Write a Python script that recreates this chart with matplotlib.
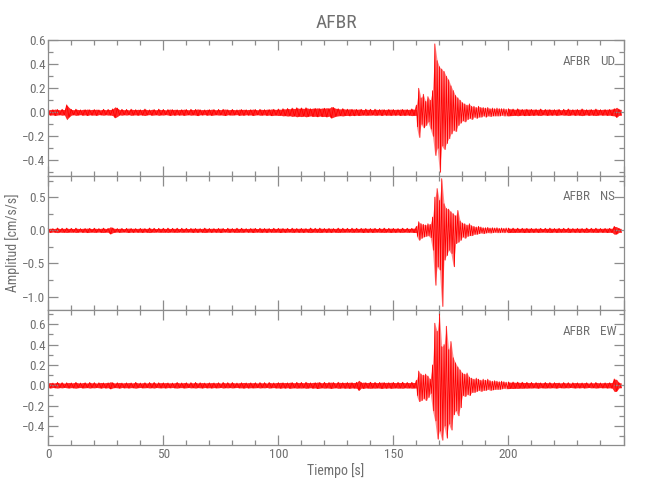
import numpy as np
import matplotlib
matplotlib.use("Agg")
import matplotlib.pyplot as plt
from matplotlib import font_manager as fm
from matplotlib.ticker import MultipleLocator, FixedLocator

# ---------------- data ----------------
station = "AFBR"
components = ["UD", "NS", "EW"]
x_ticks = [0, 50, 100, 150, 200]
y_ticks_ud = [-0.4, -0.2, 0.0, 0.2, 0.4, 0.6]
y_ticks_ns = [-1.0, -0.5, 0.0, 0.5]
y_ticks_ew = [-0.4, -0.2, 0.0, 0.2, 0.4, 0.6]

# quiet noise amplitude (x 0.001), one swing per second, t = 0..159 s
ud_q1 = [20,24,22,27,23,21,25,22,62,40, 24,21,26,23,20,25,22,27,21,24,
         23,26,20,22,25,21,24,23,28,46, 35,22,25,21,24,20,26,23,22,25,
         21,24,27,22,20,25,23,21,26,22, 24,20,23,27,22,25,21,24,22,26,
         23,21,25,22,24,28,21,23,20,25, 22,26,23,21,24,22,25,27,21,23,
         24,22,20,26,23,25,21,24,22,27, 23,21,25,24,22,26,23,28,25,24,
         27,25,30,28,32,29,35,31,38,33, 36,32,38,34,30,35,33,37,31,36,
         34,38,32,48,40,33,30,28,31,27, 26,29,25,28,24,27,25,23,26,24,
         25,22,26,24,23,27,22,25,24,26, 23,25,22,27,24,26,23,25,28,26]
ns_q1 = [28,32,26,30,35,27,31,29,33,28, 30,27,33,29,26,31,28,34,30,27,
         32,29,27,31,33,28,30,55,36,29, 27,31,29,26,30,33,28,31,27,30,
         29,32,27,30,34,28,31,26,30,29, 31,28,33,27,30,29,32,26,31,28,
         30,27,29,32,28,31,26,30,33,29, 28,31,27,30,29,33,28,26,31,30,
         27,30,32,28,31,29,26,30,28,33, 29,27,31,30,28,32,27,29,31,28,
         30,33,28,31,29,27,32,30,28,31, 29,32,27,30,34,28,31,29,33,30,
         28,31,29,32,27,30,33,29,31,28, 30,27,32,29,31,28,30,33,29,31,
         28,32,30,27,31,29,33,28,30,32, 29,31,28,30,32,27,31,29,30,33]
ew_q1 = [24,27,22,25,28,23,26,21,25,27, 23,26,29,24,22,27,25,23,28,24,
         26,22,25,28,23,27,24,35,26,23, 25,28,22,26,24,27,23,25,29,24,
         22,26,25,23,27,24,28,22,25,26, 24,27,23,25,22,26,28,24,23,27,
         25,22,26,24,28,23,25,27,22,26, 24,27,23,26,25,22,28,24,26,23,
         27,24,22,26,25,28,23,27,24,26, 25,23,27,24,26,22,28,25,23,27,
         26,29,25,28,24,30,27,25,29,26, 28,25,30,27,24,29,26,32,28,25,
         29,26,28,31,27,25,30,28,26,29, 27,30,26,28,29,50,27,31,26,28,
         30,27,29,26,28,31,27,29,26,30, 28,26,29,27,30,25,28,26,29,27]

# strong motion, t = 160..199 s: positive and negative peak of each second
ud_pos = [0.06,0.20,0.12,0.15,0.09,0.13,0.10,0.18,0.57,0.43,
          0.38,0.36,0.34,0.30,0.27,0.22,0.18,0.14,0.12,0.10,
          0.08,0.07,0.06,0.07,0.05,0.05,0.04,0.05,0.04,0.04,
          0.035,0.04,0.03,0.035,0.03,0.035,0.03,0.03,0.03,0.025]
ud_neg = [-0.12,-0.21,-0.10,-0.13,-0.11,-0.08,-0.14,-0.20,-0.36,-0.30,
          -0.50,-0.28,-0.31,-0.26,-0.22,-0.18,-0.15,-0.16,-0.11,-0.09,
          -0.07,-0.08,-0.06,-0.05,-0.06,-0.04,-0.05,-0.04,-0.04,-0.03,
          -0.04,-0.03,-0.035,-0.03,-0.03,-0.03,-0.03,-0.025,-0.03,-0.03]
ns_pos = [0.06,0.13,0.10,0.09,0.08,0.10,0.09,0.20,0.50,0.63,
          0.45,0.78,0.40,0.33,0.32,0.28,0.25,0.22,0.30,0.14,
          0.11,0.10,0.08,0.10,0.07,0.06,0.05,0.06,0.05,0.04,
          0.04,0.045,0.035,0.04,0.035,0.04,0.03,0.035,0.03,0.035]
ns_neg = [-0.09,-0.15,-0.12,-0.10,-0.09,-0.08,-0.11,-0.30,-0.83,-0.55,
          -0.60,-1.15,-0.45,-0.38,-0.30,-0.35,-0.55,-0.20,-0.18,-0.15,
          -0.10,-0.12,-0.09,-0.08,-0.08,-0.06,-0.06,-0.05,-0.04,-0.05,
          -0.04,-0.035,-0.04,-0.035,-0.03,-0.035,-0.035,-0.03,-0.035,-0.03]
ew_pos = [0.05,0.14,0.11,0.10,0.11,0.09,0.06,0.20,0.61,0.53,
          0.70,0.38,0.40,0.58,0.35,0.43,0.27,0.22,0.18,0.15,
          0.12,0.11,0.12,0.08,0.07,0.06,0.07,0.06,0.05,0.06,
          0.05,0.06,0.045,0.04,0.045,0.04,0.035,0.04,0.035,0.03]
ew_neg = [-0.10,-0.16,-0.15,-0.13,-0.15,-0.12,-0.08,-0.25,-0.35,-0.53,
          -0.45,-0.54,-0.40,-0.52,-0.38,-0.44,-0.29,-0.25,-0.30,-0.22,
          -0.10,-0.11,-0.09,-0.10,-0.07,-0.07,-0.06,-0.05,-0.06,-0.05,
          -0.05,-0.04,-0.05,-0.045,-0.04,-0.04,-0.04,-0.035,-0.03,-0.035]

# quiet noise amplitude (x 0.001), t = 200..249 s
ud_q2 = [30,28,27,25,29,26,24,28,25,27, 24,26,23,25,27,22,24,26,23,25,
         22,26,24,21,25,23,27,24,22,26, 23,25,28,24,22,26,23,25,27,24,
         22,25,23,26,24,28,30,42,26,24]
ns_q2 = [34,31,33,30,32,29,31,33,30,32, 29,31,28,32,30,27,31,29,33,30,
         28,32,30,29,31,27,33,30,28,31, 29,32,28,30,33,27,31,29,32,30,
         28,31,29,33,30,32,60,55,31,29]
ew_q2 = [33,30,32,29,31,28,30,27,29,26, 28,25,27,29,24,26,28,25,27,24,
         26,28,23,25,27,24,26,22,25,27, 24,26,23,27,25,22,26,24,28,25,
         23,26,24,27,25,28,62,58,26,24]

ylims = {"UD": (-0.527, 0.60), "NS": (-1.208, 0.828), "EW": (-0.587, 0.737)}
yticks = {"UD": y_ticks_ud, "NS": y_ticks_ns, "EW": y_ticks_ew}
yminor = {"UD": 0.1, "NS": 0.25, "EW": 0.1}
series = {"UD": (ud_q1, ud_pos, ud_neg, ud_q2),
          "NS": (ns_q1, ns_pos, ns_neg, ns_q2),
          "EW": (ew_q1, ew_pos, ew_neg, ew_q2)}

# ---------------- style ----------------
avail = {f.name for f in fm.fontManager.ttflist}
family = [f for f in ["Liberation Sans Narrow", "Roboto Condensed", "Liberation Sans", "DejaVu Sans"] if f in avail]
plt.rcParams["font.family"] = family
TXT = "#707070"
AX = "#8c8c8c"
RED = "#ff0000"


def draw_trace(ax, q1, pos, neg, q2):
    q1 = np.asarray(q1, float) * 1e-3
    q2 = np.asarray(q2, float) * 1e-3
    pos = np.asarray(pos, float)
    neg = np.asarray(neg, float)
    s1 = np.where(np.arange(len(q1)) % 2 == 0, 1.0, -1.0)
    s2 = np.where(np.arange(len(q2)) % 2 == 0, 1.0, -1.0)
    t1 = np.arange(len(q1), dtype=float)
    tsec = 160.0 + np.arange(len(pos), dtype=float)
    t2 = 200.0 + np.arange(len(q2), dtype=float)
    # noise band before and after the event
    tq1 = np.append(t1, 160.0)
    aq1 = np.append(q1, q1[-1])
    ax.fill_between(tq1, -aq1, aq1, color=RED, alpha=0.85, lw=0, clip_on=False)
    tq2 = np.insert(t2, 0, 199.5)
    aq2 = np.insert(q2, 0, q2[0])
    ax.fill_between(tq2, -aq2, aq2, color=RED, alpha=0.85, lw=0, clip_on=False)
    # strong-motion envelope, light
    ax.fill_between(tsec, neg, pos, color=RED, alpha=0.45, lw=0, clip_on=False)
    # the oscillating trace itself
    ta = 160.0 + np.arange(2 * len(pos)) * 0.5
    va = np.empty(2 * len(pos))
    va[0::2] = pos
    va[1::2] = neg
    t = np.concatenate([t1, ta, t2])
    v = np.concatenate([q1 * s1, va, q2 * s2])
    ax.plot(t, v, color=RED, lw=0.6, clip_on=False)


fig = plt.figure(figsize=(6.5, 5.0), dpi=100)
L = 48.3 / 650
W = (623.5 - 48.3) / 650
bounds_px = [(40.3, 175.5), (175.5, 310.3), (310.3, 445.0)]

for i, comp in enumerate(components):
    top, bot = bounds_px[i]
    ax = fig.add_axes([L, 1 - bot / 500, W, (bot - top) / 500])
    draw_trace(ax, *series[comp])
    ax.set_xlim(0, 250)
    ax.set_ylim(*ylims[comp])
    ax.xaxis.set_major_locator(FixedLocator(x_ticks + [250]))
    ax.xaxis.set_minor_locator(MultipleLocator(10))
    ax.yaxis.set_major_locator(FixedLocator(yticks[comp]))
    ax.yaxis.set_minor_locator(MultipleLocator(yminor[comp]))
    ax.tick_params(which="both", direction="in", top=True, right=True,
                   colors=AX, labelcolor=TXT, width=0.9, labelsize=9.5)
    ax.tick_params(which="major", length=7.2, pad=2)
    ax.tick_params(which="minor", length=3.6)
    for sp in ax.spines.values():
        sp.set_color(AX)
        sp.set_linewidth(0.9)
    ax.set_yticklabels([f"{y:.1f}".replace("-", "\u2212") for y in yticks[comp]])
    if i < 2:
        ax.set_xticklabels([])
    else:
        ax.set_xticklabels([str(x) for x in x_ticks] + [""])
    ax.text(0.895, 0.845, station, transform=ax.transAxes, ha="left",
            va="center", fontsize=9.5, color=TXT)
    ax.text(0.959, 0.845, comp, transform=ax.transAxes, ha="left",
            va="center", fontsize=9.5, color=TXT)

fig.text(336 / 650, 1 - 23 / 500, station, ha="center", va="center",
         fontsize=14, color=TXT)
fig.text(336 / 650, 1 - 471 / 500, "Tiempo [s]", ha="center", va="center",
         fontsize=10, color=TXT)
fig.text(12.5 / 650, 1 - 243 / 500, "Amplitud [cm/s/s]", ha="center",
         va="center", rotation=90, fontsize=10, color=TXT)

fig.savefig("out.png", dpi=100)
